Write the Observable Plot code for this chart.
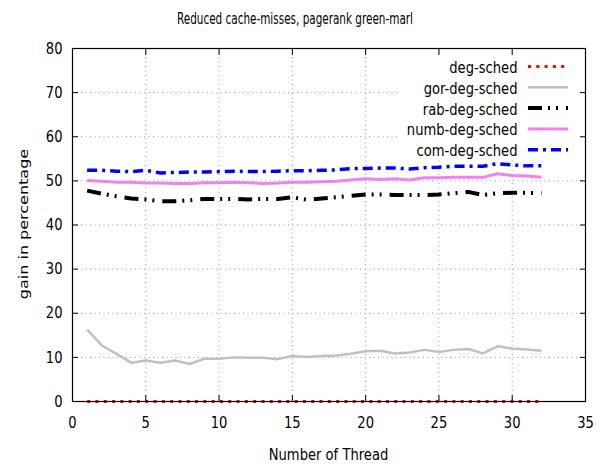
<!DOCTYPE html>
<html>
<head>
<meta charset="utf-8">
<script src="https://cdn.jsdelivr.net/npm/d3@7"></script>
<script src="https://cdn.jsdelivr.net/npm/@observablehq/plot@0.6"></script>
<style>
  html, body { margin: 0; padding: 0; background: #fff; }
  #wrap { position: relative; width: 605px; height: 465px; }
  #titlebox { position: absolute; left: 0; top: 0; }
</style>
</head>
<body>
<div id="wrap">
  <svg id="titlebox" width="605" height="30"><text id="title" x="295" y="24" text-anchor="middle"
    font-family="DejaVu Sans" font-size="16" fill="#000">Reduced cache-misses, pagerank green-marl</text></svg>
</div>
<script>
const threads = d3.range(1, 33);
const seriesNames = ["deg-sched", "gor-deg-sched", "rab-deg-sched", "numb-deg-sched", "com-deg-sched"];
const degSched = Array(32).fill(0);
const gorDegSched = [16.3, 12.7, 10.8, 8.8, 9.3, 8.8, 9.3, 8.5, 9.7, 9.7, 10.0, 9.9, 9.9, 9.6, 10.3, 10.1,
                     10.3, 10.4, 10.8, 11.4, 11.5, 10.9, 11.1, 11.7, 11.2, 11.7, 11.9, 10.9, 12.5, 12.0, 11.8, 11.5];
const rabDegSched = [47.8, 47.1, 46.5, 46.0, 45.8, 45.4, 45.4, 45.6, 45.9, 45.9, 45.9, 45.8, 45.9, 45.9, 46.3, 45.7,
                     46.0, 46.3, 46.6, 46.9, 46.9, 46.8, 46.8, 46.8, 46.9, 47.2, 47.5, 46.8, 47.2, 47.3, 47.3, 47.2];
const numbDegSched = [50.1, 49.9, 49.7, 49.7, 49.5, 49.5, 49.4, 49.4, 49.6, 49.6, 49.7, 49.6, 49.4, 49.5, 49.7, 49.7,
                      49.8, 49.9, 50.2, 50.5, 50.3, 50.5, 50.2, 50.7, 50.7, 50.8, 50.8, 50.8, 51.6, 51.2, 51.1, 50.8];
const comDegSched = [52.4, 52.4, 52.2, 52.1, 52.4, 51.8, 51.9, 52.0, 52.0, 52.1, 52.2, 52.1, 52.1, 52.2, 52.3, 52.3,
                     52.4, 52.5, 52.8, 52.8, 52.9, 52.9, 52.7, 53.0, 53.1, 53.3, 53.3, 53.3, 53.9, 53.6, 53.4, 53.4];
const xTicks = [0, 5, 10, 15, 20, 25, 30, 35];
const yTicks = [0, 10, 20, 30, 40, 50, 60, 70, 80];
const xLabel = "Number of Thread";
const yLabel = "gain in percentage";

const values = [degSched, gorDegSched, rabDegSched, numbDegSched, comDegSched];
const styles = [
  {stroke: "#ff0000", strokeWidth: 3, strokeDasharray: "3,5.3"},
  {stroke: "#c0c0c0", strokeWidth: 2.5, strokeDasharray: null},
  {stroke: "#000000", strokeWidth: 4, strokeDasharray: "14,6,2,6,2,8"},
  {stroke: "#ee82ee", strokeWidth: 3, strokeDasharray: null},
  {stroke: "#0000ff", strokeWidth: 3.5, strokeDasharray: "10,5,3,5"}
];
const data = [];
seriesNames.forEach((name, i) => threads.forEach((t, j) => data.push({series: name, x: t, y: values[i][j]})));

const SQ = 0.82; // horizontal squash of the reference's glyphs
const lineMarks = seriesNames.map((name, i) => Plot.line(data.filter(d => d.series === name), {
  x: "x", y: "y", stroke: styles[i].stroke, strokeWidth: styles[i].strokeWidth,
  strokeDasharray: styles[i].strokeDasharray, strokeLinecap: "butt", strokeLinejoin: "round"
}));

const chart = Plot.plot({
  width: 605, height: 465,
  marginTop: 48, marginBottom: 64, marginLeft: 72, marginRight: 20,
  style: {fontFamily: "DejaVu Sans", fontSize: "16px", background: "transparent", overflow: "visible"},
  x: {domain: [0, 35], ticks: xTicks},
  y: {domain: [0, 80], ticks: yTicks},
  marks: [
    Plot.gridX(xTicks.slice(1, -1), {stroke: "#999", strokeOpacity: 1, strokeDasharray: "1,3.5"}),
    Plot.gridY(yTicks.slice(1, -1), {stroke: "#999", strokeOpacity: 1, strokeDasharray: "1,3.5"}),
    Plot.axisX(xTicks, {anchor: "bottom", tickSize: 0, tickPadding: 15, fontSize: 16, label: null}),
    Plot.axisY(yTicks, {anchor: "left", tickSize: 0, tickPadding: 10, fontSize: 16, label: null}),
    Plot.axisX(xTicks, {anchor: "bottom", tickSize: -6, tickFormat: () => "", label: null}),
    Plot.axisX(xTicks, {anchor: "top", tickSize: -6, tickFormat: () => "", label: null}),
    Plot.axisY(yTicks, {anchor: "left", tickSize: -6, tickFormat: () => "", label: null}),
    Plot.axisY(yTicks, {anchor: "right", tickSize: -6, tickFormat: () => "", label: null}),
    ...lineMarks,
    Plot.frame({stroke: "black", strokeWidth: 1.2})
  ]
});
const wrap = document.getElementById("wrap");
chart.style.position = "absolute";
chart.style.left = "0px";
chart.style.top = "0px";
wrap.insertBefore(chart, wrap.firstChild);

// squash glyphs horizontally like the reference (textLength keeps anchoring intact)
function squash(el, factor) {
  const len = el.getComputedTextLength();
  if (len > 0) {
    el.setAttribute("textLength", (len * factor).toFixed(2));
    el.setAttribute("lengthAdjust", "spacingAndGlyphs");
  }
}
chart.querySelectorAll("text").forEach(el => squash(el, SQ));
(function() {
  const t = document.getElementById("title");
  t.setAttribute("textLength", 236);
  t.setAttribute("lengthAdjust", "spacingAndGlyphs");
})();

const svg = d3.select(chart);
// axis labels
svg.append("text")
  .attr("transform", `translate(328.5,460) scale(${SQ},1)`)
  .attr("text-anchor", "middle").attr("font-family", "DejaVu Sans").attr("font-size", 16)
  .text(xLabel);
svg.append("text")
  .attr("transform", `translate(23,224) scale(${SQ},1) rotate(-90)`)
  .attr("text-anchor", "middle").attr("dy", "0.35em")
  .attr("font-family", "DejaVu Sans").attr("font-size", 16)
  .text(yLabel);

// Legend overlay (gnuplot-style, top right, opaque)
const leg = svg.append("g");
leg.append("rect").attr("x", 400).attr("y", 56).attr("width", 184).attr("height", 104).attr("fill", "white");
seriesNames.forEach((name, i) => {
  const yy = 66.5 + i * 20.8;
  leg.append("text").attr("transform", `translate(517.5,${yy + 6.5}) scale(${SQ},1)`)
    .attr("text-anchor", "end").attr("font-family", "DejaVu Sans").attr("font-size", 16).text(name);
  leg.append("line").attr("x1", 528).attr("x2", 568).attr("y1", yy).attr("y2", yy)
    .attr("stroke", styles[i].stroke).attr("stroke-width", styles[i].strokeWidth)
    .attr("stroke-dasharray", styles[i].strokeDasharray).attr("stroke-linecap", "butt");
});
// keep frame and its ticks above the legend background
svg.selectAll("[aria-label=frame], [aria-label='x-axis tick'], [aria-label='y-axis tick']").each(function() {
  chart.appendChild(this);
});
</script>
</body>
</html>
